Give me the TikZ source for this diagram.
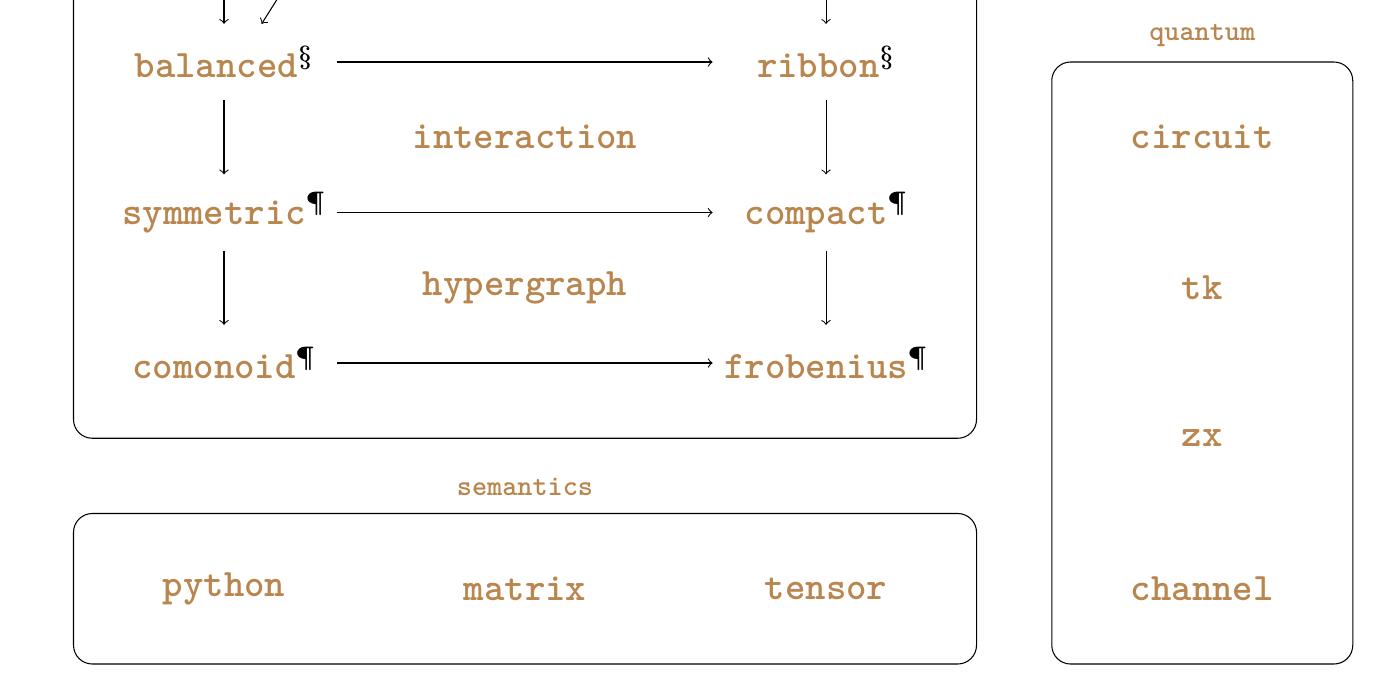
\documentclass[tikz,border=0pt]{standalone}
\usepackage{xcolor}
\usetikzlibrary{positioning}
\definecolor{ochre}{RGB}{184,134,78}
\newcommand{\secmark}{\textcolor{black}{\boldmath$^\S$}}
\newcommand{\parmark}{\textcolor{black}{\boldmath$^\P$}}

\begin{document}
\begin{tikzpicture}
    \tikzset{cat/.style={font=\fontsize{14.7}{18}\selectfont\ttfamily\bfseries, text=ochre, minimum width=3cm, minimum height=1cm, inner sep=1pt},
      grp/.style={draw, rounded corners=0.25cm, minimum width=#1},
      ttl/.style={font=\fontsize{10.9}{13}\selectfont\ttfamily\bfseries, text=ochre}}
\useasboundingbox (-2.977,-4.292) rectangle (15.601,4.824);
% the three boxes
\node[grp=12cm, minimum height=8cm] (lang) at (4,3) {};
\node[grp=12cm, minimum height=2cm] (sem) at (4,-3) {};
\node[grp=4cm, minimum height=8cm] (qua) at (13,0) {};
\node[ttl, above=1.1mm of sem] (semt) {semantics};
\node[ttl, above=0.7mm of qua] (quat) {quantum};
% categories
\node[cat] (bal) at (0,4) {balanced\secmark};
\node[cat] (rib) at (8,4) {ribbon\secmark};
\node[cat] (sym) at (0,2) {symmetric\parmark};
\node[cat] (cpt) at (8,2) {compact\parmark};
\node[cat] (com) at (0,0) {comonoid\parmark};
\node[cat] (frob) at (8,0) {frobenius\parmark};
\node[cat] (int) at (4,3) {interaction};
\node[cat] (hyp) at (4,1) {hypergraph};
\node[cat] (py) at (0,-3) {python};
\node[cat] (mat) at (4,-3) {matrix};
\node[cat] (ten) at (8,-3) {tensor};
\node[cat] (circ) at (13,3) {circuit};
\node[cat] (tk) at (13,1) {tk};
\node[cat] (zx) at (13,-1) {zx};
\node[cat] (chan) at (13,-3) {channel};
\coordinate (inB) at (0,5.5);
\coordinate (inD) at (1.125,5.5);
\coordinate (inR) at (8,5.5);
 \draw[->] (inB) -- (bal);
 \draw[->] (inD) -- ([xshift=5mm]bal.north);
 \draw[->] (inR) -- (rib);
 \draw[->] (bal) -- (rib);
 \draw[->] (sym) -- (cpt);
 \draw[->] (com) -- (frob);
 \draw[->] (bal) -- (sym);
 \draw[->] (sym) -- (com);
 \draw[->] (rib) -- (cpt);
 \draw[->] (cpt) -- (frob);
\end{tikzpicture}
\end{document}
